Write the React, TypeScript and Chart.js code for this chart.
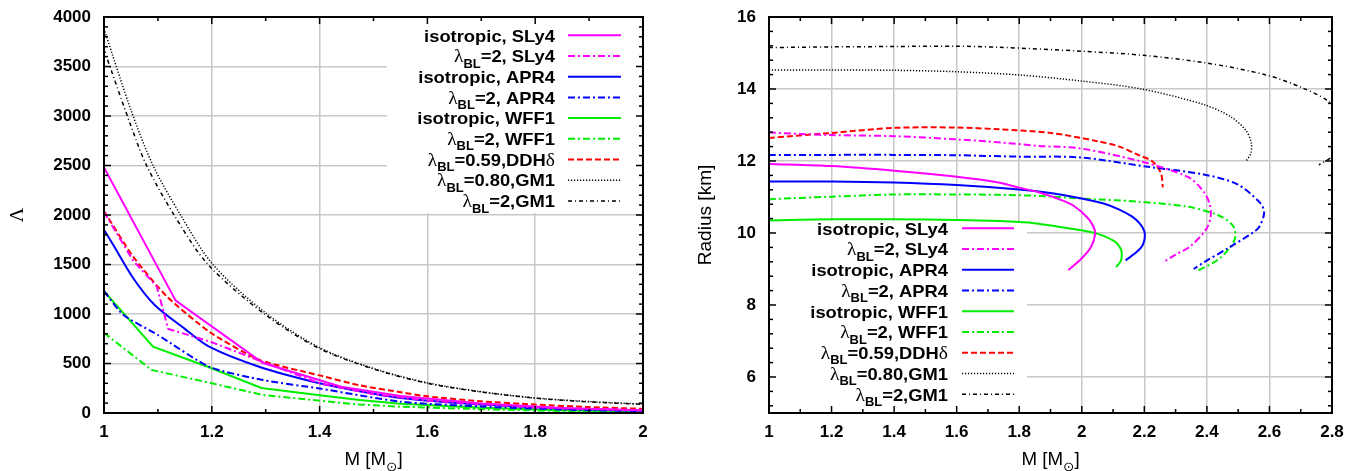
import React, { useEffect, useRef } from "react";
import { Chart, registerables } from "chart.js";

Chart.register(...registerables);

// ---------------- shared ----------------
const seriesLabels = [
  "isotropic, SLy4",
  "λ_{BL}=2, SLy4",
  "isotropic, APR4",
  "λ_{BL}=2, APR4",
  "isotropic, WFF1",
  "λ_{BL}=2, WFF1",
  "λ_{BL}=0.59,DDHδ",
  "λ_{BL}=0.80,GM1",
  "λ_{BL}=2,GM1",
];

// ---------------- left panel: Λ vs M ----------------
const lamXTicks = [1, 1.2, 1.4, 1.6, 1.8, 2];
const lamYTicks = [0, 500, 1000, 1500, 2000, 2500, 3000, 3500, 4000];

const lamIsoSLy4M = [1.0, 1.133, 1.295, 1.44, 1.55, 1.7, 1.85, 2.0];
const lamIsoSLy4V = [2480, 1135, 505, 265, 172, 95, 50, 28];
const lamBlSLy4M = [1.0, 1.054, 1.098, 1.119, 1.2, 1.29, 1.4, 1.5, 1.6, 1.8, 2.0];
const lamBlSLy4V = [2030, 1540, 1276, 850, 715, 525, 300, 190, 125, 55, 25];
const lamIsoAPR4M = [1.0, 1.017, 1.054, 1.094, 1.15, 1.196, 1.289, 1.4, 1.474, 1.55, 1.7, 1.85, 2.0];
const lamIsoAPR4V = [1850, 1700, 1364, 1091, 850, 667, 465, 300, 220, 152, 85, 45, 25];
const lamBlAPR4M = [1.0, 1.036, 1.1, 1.196, 1.295, 1.4, 1.55, 1.7, 1.85, 2.0];
const lamBlAPR4V = [1230, 990, 788, 465, 333, 247, 114, 65, 35, 18];
const lamIsoWFF1M = [1.0, 1.091, 1.196, 1.292, 1.4, 1.474, 1.55, 1.7, 1.85, 2.0];
const lamIsoWFF1V = [1230, 670, 460, 253, 180, 131, 93, 52, 28, 14];
const lamBlWFF1M = [1.0, 1.088, 1.196, 1.295, 1.4, 1.474, 1.55, 1.7, 1.85, 2.0];
const lamBlWFF1V = [810, 435, 305, 182, 125, 85, 64, 38, 20, 10];
const lamDDHM = [1.0, 1.054, 1.117, 1.196, 1.289, 1.4, 1.474, 1.548, 1.6, 1.7, 1.8, 1.9, 2.0];
const lamDDHV = [2040, 1580, 1175, 818, 535, 380, 280, 212, 168, 118, 85, 60, 42];
const lamGM1aM = [1.0, 1.05, 1.091, 1.142, 1.202, 1.3, 1.4, 1.5, 1.6, 1.7, 1.8, 1.9, 2.0];
const lamGM1aV = [3880, 3060, 2500, 2000, 1500, 1010, 660, 450, 305, 215, 152, 115, 90];
const lamGM1bM = [1.0, 1.05, 1.079, 1.13, 1.193, 1.3, 1.4, 1.5, 1.6, 1.7, 1.8, 1.9, 2.0];
const lamGM1bV = [3670, 2900, 2500, 2000, 1500, 990, 650, 445, 300, 212, 150, 112, 88];

// ---------------- right panel: R vs M ----------------
const radXTicks = [1, 1.2, 1.4, 1.6, 1.8, 2, 2.2, 2.4, 2.6, 2.8];
const radYTicks = [6, 8, 10, 12, 14, 16];

const radIsoSLy4M = [1.0, 1.2, 1.4, 1.6, 1.734, 1.8, 1.862, 1.93, 1.975, 2.02, 2.037, 2.043, 2.03, 2.0, 1.957];
const radIsoSLy4R = [11.92, 11.86, 11.73, 11.56, 11.4, 11.26, 11.13, 10.93, 10.75, 10.41, 10.18, 9.99, 9.62, 9.3, 8.97];
const radBlSLy4M = [1.0, 1.2, 1.4, 1.6, 1.734, 1.862, 1.995, 2.192, 2.339, 2.386, 2.408, 2.412, 2.396, 2.345, 2.3, 2.259];
const radBlSLy4R = [12.79, 12.72, 12.69, 12.6, 12.52, 12.42, 12.35, 11.98, 11.56, 11.19, 10.83, 10.45, 10.08, 9.62, 9.4, 9.18];
const radIsoAPR4M = [1.0, 1.2, 1.4, 1.6, 1.8, 1.9, 2.0, 2.07, 2.12, 2.16, 2.185, 2.2, 2.2, 2.19, 2.165, 2.14];
const radIsoAPR4R = [11.43, 11.43, 11.4, 11.33, 11.21, 11.11, 10.96, 10.82, 10.65, 10.46, 10.27, 10.05, 9.8, 9.6, 9.4, 9.24];
const radBlAPR4M = [1.0, 1.2, 1.4, 1.6, 1.8, 1.995, 2.211, 2.393, 2.498, 2.571, 2.583, 2.568, 2.552, 2.466, 2.393, 2.358];
const radBlAPR4R = [12.17, 12.17, 12.17, 12.16, 12.12, 12.1, 11.84, 11.62, 11.35, 10.83, 10.56, 10.18, 10.04, 9.57, 9.2, 9.0];
const radIsoWFF1M = [1.0, 1.2, 1.4, 1.6, 1.734, 1.839, 1.967, 2.046, 2.106, 2.126, 2.126, 2.11];
const radIsoWFF1R = [10.35, 10.38, 10.38, 10.36, 10.33, 10.28, 10.12, 9.99, 9.76, 9.53, 9.25, 9.05];
const radBlWFF1M = [1.0, 1.2, 1.4, 1.6, 1.734, 1.862, 1.995, 2.18, 2.339, 2.434, 2.482, 2.491, 2.476, 2.434, 2.37];
const radBlWFF1R = [10.94, 11.01, 11.07, 11.07, 11.06, 11.03, 10.96, 10.87, 10.73, 10.5, 10.22, 9.9, 9.62, 9.25, 8.95];
const radDDHM = [1.0, 1.2, 1.4, 1.6, 1.734, 1.9, 2.05, 2.12, 2.18, 2.227, 2.253, 2.259];
const radDDHR = [12.64, 12.78, 12.92, 12.93, 12.88, 12.78, 12.55, 12.4, 12.17, 11.98, 11.66, 11.27];
const radGM1aM = [1.0, 1.2, 1.4, 1.6, 1.8, 2.0, 2.192, 2.393, 2.476, 2.524, 2.542, 2.54, 2.524];
const radGM1aR = [14.53, 14.53, 14.52, 14.48, 14.39, 14.22, 14.0, 13.56, 13.23, 12.86, 12.5, 12.2, 11.98];
const radGM1bM = [1.0, 1.2, 1.4, 1.6, 1.734, 2.0, 2.192, 2.393, 2.59, 2.7, 2.784, 2.83, 2.85, 2.84, 2.8, 2.758];
const radGM1bR = [15.15, 15.17, 15.18, 15.19, 15.16, 15.05, 14.94, 14.73, 14.39, 14.05, 13.69, 13.3, 12.8, 12.4, 12.11, 11.89];

// ---------------- styles ----------------
const DASHDOT = [7, 3, 2, 3];
const seriesStyles = [
  { color: "#ff00ff", dash: [] as number[], width: 2 },
  { color: "#ff00ff", dash: DASHDOT, width: 2 },
  { color: "#0000ff", dash: [] as number[], width: 2 },
  { color: "#0000ff", dash: DASHDOT, width: 2 },
  { color: "#00ee00", dash: [] as number[], width: 2 },
  { color: "#00ee00", dash: DASHDOT, width: 2 },
  { color: "#ff0000", dash: [6, 3], width: 2 },
  { color: "#000000", dash: [1.2, 1.8], width: 1.5 },
  { color: "#000000", dash: [4, 3, 1, 3], width: 1.5 },
];

const FONT = '"Liberation Sans", Arial, Helvetica, sans-serif';

type Seg = { t: string; kind: "n" | "g" | "s" };
function parseRich(label: string): Seg[] {
  const segs: Seg[] = [];
  let buf = "";
  let i = 0;
  const flush = () => {
    if (buf) segs.push({ t: buf, kind: "n" });
    buf = "";
  };
  while (i < label.length) {
    const c = label[i];
    if (c === "_" && label[i + 1] === "{") {
      flush();
      const j = label.indexOf("}", i + 2);
      segs.push({ t: label.slice(i + 2, j), kind: "s" });
      i = j + 1;
      continue;
    }
    if (/[\u0370-\u03FF]/.test(c)) {
      flush();
      segs.push({ t: c, kind: "g" });
      i++;
      continue;
    }
    buf += c;
    i++;
  }
  flush();
  return segs;
}

function drawRich(
  ctx: CanvasRenderingContext2D,
  text: string,
  x: number,
  y: number,
  align: "left" | "right" | "center",
  size: number,
  bold: boolean,
  sx: number
) {
  const segs = parseRich(text);
  const w = bold ? "bold " : "";
  const fonts = segs.map((s) =>
    s.kind === "s"
      ? `${w}${Math.round(size * 0.72)}px ${FONT}`
      : s.kind === "g"
      ? `${size + 1}px "Liberation Serif", serif`
      : `${w}${size}px ${FONT}`
  );
  const widths = segs.map((s, k) => {
    ctx.font = fonts[k];
    return ctx.measureText(s.t).width;
  });
  const total = widths.reduce((a, b) => a + b, 0) * sx;
  let start = x;
  if (align === "right") start = x - total;
  else if (align === "center") start = x - total / 2;
  ctx.save();
  ctx.translate(start, y);
  ctx.scale(sx, 1);
  ctx.textAlign = "left";
  ctx.textBaseline = "alphabetic";
  ctx.fillStyle = "#000";
  let cx = 0;
  segs.forEach((s, k) => {
    ctx.font = fonts[k];
    ctx.fillText(s.t, cx, s.kind === "s" ? size * 0.32 : 0);
    cx += widths[k];
  });
  ctx.restore();
}

type DecorOpts = {
  xMajor: number;
  xMinor: number;
  yMajor: number;
  yMinor: number;
  box: { x0: number; y0: number; x1: number; y1: number };
  legend: { right: number; l0: number; l1: number; y0: number; dy: number };
  xTitle: string;
  yTitle: string;
  yTitleX: number;
};

function isMult(v: number, step: number) {
  return Math.abs(v / step - Math.round(v / step)) < 1e-6;
}

function makeDecor(o: DecorOpts) {
  return {
    id: "gnuplotDecor",
    beforeDatasetsDraw(chart: any) {
      const ctx = chart.ctx as CanvasRenderingContext2D;
      ctx.save();
      ctx.fillStyle = "#ffffff";
      ctx.fillRect(o.box.x0, o.box.y0, o.box.x1 - o.box.x0, o.box.y1 - o.box.y0);
      ctx.restore();
    },
    afterDatasetsDraw(chart: any) {
      const ctx = chart.ctx as CanvasRenderingContext2D;
      const a = chart.chartArea;
      const xs = chart.scales.x;
      const ys = chart.scales.y;
      ctx.save();
      ctx.strokeStyle = "#000";
      ctx.lineWidth = 1.5;
      ctx.setLineDash([]);
      const line = (x0: number, y0: number, x1: number, y1: number) => {
        ctx.beginPath();
        ctx.moveTo(x0, y0);
        ctx.lineTo(x1, y1);
        ctx.stroke();
      };
      const kx0 = Math.ceil(xs.min / o.xMinor - 1e-6);
      const kx1 = Math.floor(xs.max / o.xMinor + 1e-6);
      for (let k = kx0; k <= kx1; k++) {
        const v = k * o.xMinor;
        const p = xs.getPixelForValue(v);
        const len = isMult(v, o.xMajor) ? 7 : 4;
        line(p, a.bottom, p, a.bottom - len);
        line(p, a.top, p, a.top + len);
      }
      const ky0 = Math.ceil(ys.min / o.yMinor - 1e-6);
      const ky1 = Math.floor(ys.max / o.yMinor + 1e-6);
      for (let k = ky0; k <= ky1; k++) {
        const v = k * o.yMinor;
        const p = ys.getPixelForValue(v);
        const len = isMult(v, o.yMajor) ? 7 : 4;
        line(a.left, p, a.left + len, p);
        line(a.right, p, a.right - len, p);
      }
      ctx.lineWidth = 2;
      ctx.strokeRect(a.left, a.top, a.right - a.left, a.bottom - a.top);

      // legend
      chart.data.datasets.forEach((ds: any, i: number) => {
        const y = o.legend.y0 + i * o.legend.dy;
        drawRich(ctx, ds.label, o.legend.right, y + 6.2, "right", 17, true, 1.08);
        ctx.save();
        ctx.strokeStyle = ds.borderColor;
        ctx.lineWidth = ds.borderWidth;
        ctx.setLineDash(ds.borderDash || []);
        line(o.legend.l0, y, o.legend.l1, y);
        ctx.restore();
      });

      // axis titles
      drawRich(ctx, o.xTitle, (a.left + a.right) / 2, 465, "center", 18, false, 1.04);
      ctx.save();
      ctx.translate(o.yTitleX, (a.top + a.bottom) / 2);
      ctx.rotate(-Math.PI / 2);
      drawRich(ctx, o.yTitle, 0, 0, "center", 18, false, 1.06);
      ctx.restore();
      ctx.restore();
    },
  };
}

function buildDatasets(ms: number[][], vs: number[][], tensions: number[]) {
  return ms.map((m, i) => ({
    label: seriesLabels[i],
    data: m.map((x, k) => ({ x, y: vs[i][k] })),
    borderColor: seriesStyles[i].color,
    backgroundColor: seriesStyles[i].color,
    borderDash: seriesStyles[i].dash,
    borderWidth: seriesStyles[i].width,
    pointRadius: 0,
    showLine: true,
    fill: false,
    tension: tensions[i],
  }));
}

function makeScales(xTicks: number[], yTicks: number[], yWidth: number, yMin: number) {
  const tickFont = { family: FONT, size: 17, weight: "bold" as const };
  return {
    x: {
      type: "linear" as const,
      min: xTicks[0],
      max: xTicks[xTicks.length - 1],
      afterBuildTicks: (s: any) => {
        s.ticks = xTicks.map((v) => ({ value: v }));
      },
      afterFit: (s: any) => {
        s.height = 58;
        s.paddingLeft = 0;
        s.paddingRight = 0;
      },
      grid: { color: "#c8c8c8", lineWidth: 1.5, drawTicks: false },
      border: { display: false },
      ticks: {
        font: tickFont,
        color: "#000",
        padding: 9,
        maxRotation: 0,
        autoSkip: false,
        callback: (v: any) => String(Number(Number(v).toFixed(2))),
      },
    },
    y: {
      type: "linear" as const,
      min: yMin,
      max: yTicks[yTicks.length - 1],
      afterBuildTicks: (s: any) => {
        s.ticks = yTicks.map((v) => ({ value: v }));
      },
      afterFit: (s: any) => {
        s.width = yWidth;
        s.paddingTop = 0;
        s.paddingBottom = 0;
      },
      grid: { color: "#c8c8c8", lineWidth: 1.5, drawTicks: false },
      border: { display: false },
      ticks: {
        font: tickFont,
        color: "#000",
        padding: 13,
        autoSkip: false,
        callback: (v: any) => String(v),
      },
    },
  };
}

export default function App() {
  const leftRef = useRef<HTMLCanvasElement>(null);
  const rightRef = useRef<HTMLCanvasElement>(null);

  useEffect(() => {
    const left = new Chart(leftRef.current!, {
      type: "scatter",
      data: {
        datasets: buildDatasets(
          [lamIsoSLy4M, lamBlSLy4M, lamIsoAPR4M, lamBlAPR4M, lamIsoWFF1M, lamBlWFF1M, lamDDHM, lamGM1aM, lamGM1bM],
          [lamIsoSLy4V, lamBlSLy4V, lamIsoAPR4V, lamBlAPR4V, lamIsoWFF1V, lamBlWFF1V, lamDDHV, lamGM1aV, lamGM1bV],
          [0, 0, 0.3, 0.2, 0, 0, 0.2, 0.3, 0.3]
        ) as any,
      },
      options: {
        responsive: false,
        animation: false,
        devicePixelRatio: 1,
        layout: { padding: { left: 0, right: 37, top: 17, bottom: 0 } },
        plugins: { legend: { display: false }, tooltip: { enabled: false } },
        scales: makeScales(lamXTicks, lamYTicks, 104, 0) as any,
      },
      plugins: [
        makeDecor({
          xMajor: 0.2,
          xMinor: 0.1,
          yMajor: 500,
          yMinor: 100,
          box: { x0: 387, y0: 18, x1: 642, y1: 213 },
          legend: { right: 555, l0: 568, l1: 621, y0: 35.3, dy: 20.7 },
          xTitle: "M [M_{⊙}]",
          yTitle: "Λ",
          yTitleX: 23,
        }),
      ],
    });

    const right = new Chart(rightRef.current!, {
      type: "scatter",
      data: {
        datasets: buildDatasets(
          [radIsoSLy4M, radBlSLy4M, radIsoAPR4M, radBlAPR4M, radIsoWFF1M, radBlWFF1M, radDDHM, radGM1aM, radGM1bM],
          [radIsoSLy4R, radBlSLy4R, radIsoAPR4R, radBlAPR4R, radIsoWFF1R, radBlWFF1R, radDDHR, radGM1aR, radGM1bR],
          [0.3, 0.3, 0.3, 0.3, 0.25, 0.3, 0.3, 0.3, 0.3]
        ) as any,
      },
      options: {
        responsive: false,
        animation: false,
        devicePixelRatio: 1,
        layout: { padding: { left: 0, right: 31, top: 17, bottom: 0 } },
        plugins: { legend: { display: false }, tooltip: { enabled: false } },
        scales: makeScales(radXTicks, radYTicks, 89, 5) as any,
      },
      plugins: [
        makeDecor({
          xMajor: 0.2,
          xMinor: 0.1,
          yMajor: 2,
          yMinor: 0.4,
          box: { x0: 90, y0: 221, x1: 347, y1: 412 },
          legend: { right: 268, l0: 282, l1: 334, y0: 228.3, dy: 20.75 },
          xTitle: "M [M_{⊙}]",
          yTitle: "Radius [km]",
          yTitleX: 31,
        }),
      ],
    });

    return () => {
      left.destroy();
      right.destroy();
    };
  }, []);

  return (
    <div style={{ position: "absolute", left: 0, top: 0, width: 1363, height: 471, background: "#ffffff" }}>
      <canvas ref={leftRef} width={680} height={471} style={{ position: "absolute", left: 0, top: 0 }} />
      <canvas ref={rightRef} width={683} height={471} style={{ position: "absolute", left: 680, top: 0 }} />
    </div>
  );
}
